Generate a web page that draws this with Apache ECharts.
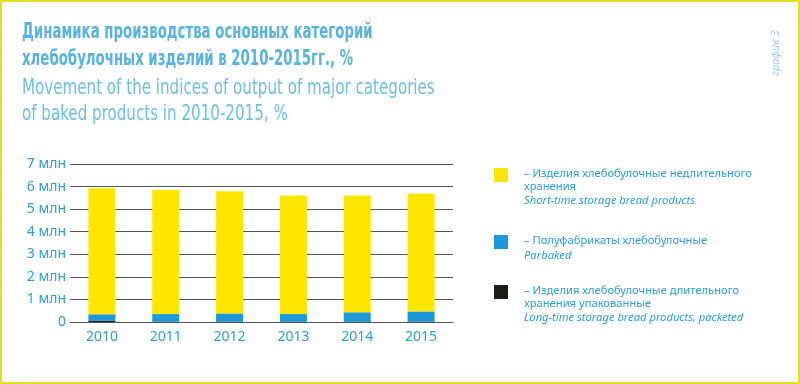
<!DOCTYPE html>
<html><head><meta charset="utf-8">
<script src="https://cdn.jsdelivr.net/npm/echarts@6/dist/echarts.min.js"></script>
<style>html,body{margin:0;padding:0;background:#fff}#c{width:800px;height:384px}</style>
</head><body><div id="c"></div>
<script>
const years = ['2010','2011','2012','2013','2014','2015'];
const shortTime = [5.59, 5.50, 5.41, 5.25, 5.17, 5.22];
const parbaked = [0.28, 0.33, 0.36, 0.33, 0.41, 0.45];
const longTime = [0.06, 0.02, 0.02, 0.02, 0.02, 0.02];
const yTicks = ['0','1 млн','2 млн','3 млн','4 млн','5 млн','6 млн','7 млн'];
const titleLines = ['Динамика производства основных категорий','хлебобулочных изделий в 2010-2015гг., %'];
const subtitleLines = ['Movement of the indices of output of major categories','of baked products in 2010-2015, %'];
const legendItems = [
  {ru:['– Изделия хлебобулочные недлительного','хранения'], en:'Short-time storage bread products', color:'#ffe600'},
  {ru:['– Полуфабрикаты хлебобулочные'], en:'Parbaked', color:'#1e98d8'},
  {ru:['– Изделия хлебобулочные длительного','хранения упакованные'], en:'Long-time storage bread products, packeted', color:'#1d1d1b'}
];
const sideNote = 'график 3';

const chart = echarts.init(document.getElementById('c'));
const titleFont = '"DejaVu Sans Condensed","DejaVu Sans",sans-serif';
const bodyFont = '"Noto Sans","Open Sans",sans-serif';
const graphics = [];
// frame
graphics.push({type:'rect', shape:{x:1,y:1,width:798,height:382}, style:{fill:'none', stroke:'#e4e01c', lineWidth:2}, silent:true});
const tY = [33, 60];
titleLines.forEach((t,i)=>graphics.push({type:'text', x:22, y:tY[i], scaleX:0.705, style:{text:t, fill:'#58b3de', font:'bold 21px '+titleFont, verticalAlign:'middle'}}));
const sY = [89, 115];
subtitleLines.forEach((t,i)=>graphics.push({type:'text', x:22, y:sY[i], scaleX:0.80, style:{text:t, fill:'#6dc0e6', font:'21px '+titleFont, verticalAlign:'middle'}}));
graphics.push({type:'text', x:776, y:76, rotation:Math.PI/2, style:{text:sideNote, fill:'#9ed2ee', font:'italic 11px '+bodyFont, verticalAlign:'middle', align:'left'}});
const legTop = [168, 235, 285];
legendItems.forEach((it,k)=>{
  const y0 = legTop[k];
  graphics.push({type:'rect', shape:{x:494,y:y0,width:14,height:14}, style:{fill:it.color}});
  let y = y0 + 6;
  it.ru.forEach(line=>{
    graphics.push({type:'text', x:524, y:y, style:{text:line, fill:'#2a9fd8', font:'11.2px '+bodyFont, verticalAlign:'middle'}});
    y += 12.5;
  });
  graphics.push({type:'text', x:524, y:y+2, style:{text:it.en, fill:'#2a9fd8', font:'italic 11.2px '+bodyFont, verticalAlign:'middle'}});
});

const M = 1e6;
chart.setOption({
  animation:false,
  grid:{left:70, right:347, top:164, bottom:62, containLabel:false},
  xAxis:{type:'category', data:years, axisTick:{show:false},
    axisLine:{show:true, lineStyle:{color:'#555', width:1}},
    axisLabel:{color:'#2a9fd8', fontFamily:bodyFont, fontSize:14, margin:8}},
  yAxis:{type:'value', min:0, max:7*M, interval:M,
    axisLine:{show:false}, axisTick:{show:false},
    splitLine:{lineStyle:{color:'#555', width:1}},
    axisLabel:{color:'#2a9fd8', fontFamily:bodyFont, fontSize:14, margin:4,
      formatter:v=>yTicks[Math.round(v/M)]}},
  series:[
    {name:legendItems[2].en, type:'bar', stack:'s', barWidth:27, data:longTime.map(v=>v*M), itemStyle:{color:legendItems[2].color}},
    {name:legendItems[1].en, type:'bar', stack:'s', barWidth:27, data:parbaked.map(v=>v*M), itemStyle:{color:legendItems[1].color}},
    {name:legendItems[0].en, type:'bar', stack:'s', barWidth:27, data:shortTime.map(v=>v*M), itemStyle:{color:legendItems[0].color}}
  ],
  graphic:graphics
});
</script></body></html>
